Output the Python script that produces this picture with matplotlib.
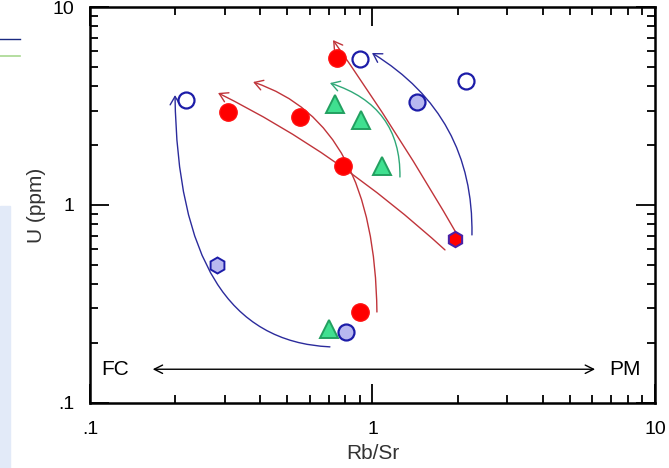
import matplotlib
matplotlib.use("Agg")
import matplotlib.pyplot as plt
from matplotlib.patches import FancyArrowPatch, Rectangle
from matplotlib.path import Path
from matplotlib.lines import Line2D

plt.rcParams['font.family'] = ['Liberation Sans', 'DejaVu Sans']

# samples (Rb/Sr, U ppm)
red_x = [0.308, 0.553, 0.748, 0.786, 0.904]
red_y = [2.95, 2.78, 5.52, 1.57, 0.288]
red_hex_x = [1.96]
red_hex_y = [0.673]
blue_open_x = [0.219, 0.904, 2.14]
blue_open_y = [3.39, 5.46, 4.23]
blue_fill_x = [1.437, 0.805]
blue_fill_y = [3.31, 0.228]
blue_hex_x = [0.282]
blue_hex_y = [0.497]
green_x = [0.736, 0.91, 1.08, 0.70]
green_y = [3.24, 2.69, 1.57, 0.237]

# trend arrows: start, bend, end (quadratic curves)
trends = [
    ('blue',  [(0.707, 0.192), (0.205, 0.208), (0.200, 3.59)]),
    ('red',   [(1.037, 0.288), (1.020, 2.60), (0.378, 4.18)]),
    ('red',   [(1.806, 0.593), (0.758, 1.84), (0.284, 3.68)]),
    ('red',   [(2.007, 0.697), (1.251, 2.26), (0.725, 6.81)]),
    ('green', [(1.251, 1.385), (1.262, 3.16), (0.707, 4.13)]),
    ('blue',  [(2.250, 0.706), (2.287, 2.82), (0.996, 5.86)]),
]
line_cols = {'red': '#c0343a', 'blue': '#2b2b9c', 'green': '#2fa877'}

ticks = [0.1, 1, 10]
tick_labels = ['.1', '1', '10']

fig = plt.figure(figsize=(6.69, 4.68), dpi=100)
ax = fig.add_axes([0.1345, 0.139, 0.8445, 0.846])
ax.set_xscale('log')
ax.set_yscale('log')
ax.set_xlim(0.1, 10)
ax.set_ylim(0.1, 10)

for col, pts in trends:
    p = Path(pts, [Path.MOVETO, Path.CURVE3, Path.CURVE3])
    arr = FancyArrowPatch(path=p, arrowstyle='->,head_length=0.5,head_width=0.3',
                          mutation_scale=12, color=line_cols[col], lw=1.0,
                          transform=ax.transData, zorder=2)
    ax.add_patch(arr)

ax.plot(red_x, red_y, 'o', ms=12.5, mfc='#ff0000', mec='#ff1010', mew=1, zorder=4)
ax.plot(red_hex_x, red_hex_y, 'h', ms=11, mfc='#ff0000', mec='#4a22a8', mew=1.5, zorder=4)
ax.plot(blue_open_x, blue_open_y, 'o', ms=11.5, mfc='white', mec='#1c1ca8', mew=1.6, zorder=4)
ax.plot(blue_fill_x, blue_fill_y, 'o', ms=11.5, mfc='#b8b8f0', mec='#1c1ca8', mew=1.6, zorder=4)
ax.plot(blue_hex_x, blue_hex_y, 'h', ms=11.5, mfc='#b8b8f0', mec='#1c1ca8', mew=1.4, zorder=4)
ax.plot(green_x, green_y, '^', ms=13.5, mfc='#40e090', mec='#22a060', mew=1.4, zorder=4)

# fractional crystallisation <-> partial melting
ax.annotate('', xy=(0.163, 0.148), xytext=(6.28, 0.148),
            arrowprops=dict(arrowstyle='<->,head_length=0.5,head_width=0.25',
                            color='black', lw=1.0, mutation_scale=12))
ax.text(0.1226, 0.148, 'FC', fontsize=15, ha='center', va='center')
ax.text(7.83, 0.148, 'PM', fontsize=15, ha='center', va='center')

ax.set_xticks(ticks)
ax.set_xticklabels(tick_labels)
ax.set_yticks(ticks)
ax.set_yticklabels(tick_labels)
ax.tick_params(which='both', direction='in', top=True, right=True, width=1.3, labelsize=14)
ax.tick_params(which='major', length=14, pad=11)
ax.tick_params(which='minor', length=6)
ax.tick_params(axis='x', which='major', pad=13)
for s in ax.spines.values():
    s.set_linewidth(1.8)

ax.set_xlabel('Rb/Sr', fontsize=15, color='#333333', labelpad=4)
ax.set_ylabel('U (ppm)', fontsize=15, color='#333333', labelpad=5)

# page edge bits
fig.add_artist(Rectangle((0, 0), 0.015, 0.56, transform=fig.transFigure,
                         color='#e2eaf8', zorder=0))
fig.add_artist(Line2D([0, 0.03], [0.917, 0.917], transform=fig.transFigure,
                      color='#1a2a80', lw=1))
fig.add_artist(Line2D([0, 0.03], [0.880, 0.880], transform=fig.transFigure,
                      color='#a8d890', lw=1.2))

fig.savefig('out.png', dpi=100)
